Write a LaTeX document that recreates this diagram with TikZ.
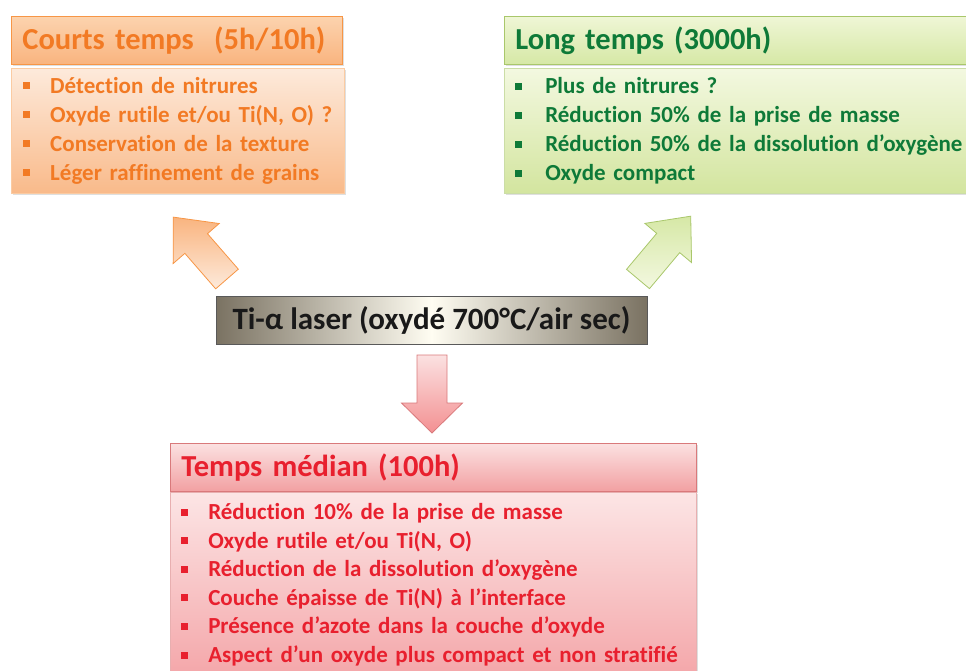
\documentclass[tikz,border=0pt]{standalone}
\usepackage{fontspec}
\setmainfont{Carlito}[Ligatures={NoCommon}]
\usetikzlibrary{shadows}
\definecolor{orTxt}{HTML}{F27A24}
\definecolor{orLine}{HTML}{F79646}
\definecolor{orA}{HTML}{FCD3AE}
\definecolor{orB}{HTML}{F9B47F}
\definecolor{orC}{HTML}{FDEADB}
\definecolor{orD}{HTML}{F9BA8A}
\definecolor{grTxt}{HTML}{0E7A38}
\definecolor{grLine}{HTML}{A9C76B}
\definecolor{grA}{HTML}{EFF6D6}
\definecolor{grB}{HTML}{D6E8A6}
\definecolor{grC}{HTML}{F3F8E0}
\definecolor{grD}{HTML}{D3E59F}
\definecolor{rdTxt}{HTML}{E8202E}
\definecolor{rdLine}{HTML}{D9797B}
\definecolor{rdA}{HTML}{FBE1E1}
\definecolor{rdB}{HTML}{F2A0A2}
\definecolor{rdC}{HTML}{FCE5E5}
\definecolor{rdD}{HTML}{F4A6A9}
\definecolor{ctEdge}{HTML}{7A7262}
\definecolor{ctMid}{HTML}{FFFDF2}
\newcommand{\bul}[2]{\makebox[#1][l]{\rule[4pt]{7pt}{7pt}}#2}
\begin{document}
\begin{tikzpicture}[x=1pt,y=-1pt,
  titlebox/.style={anchor=north west, minimum height=48pt, inner xsep=11pt,
    align=left, font=\fontsize{30.5}{34}\selectfont\bfseries, line width=0.8pt,
    drop shadow={opacity=0.25, shadow xshift=1.5pt, shadow yshift=-1.5pt}},
  listbox/.style={anchor=north west, inner xsep=11pt, align=left,
    font=\fontsize{23}{29}\selectfont\bfseries, line width=0.5pt,
    drop shadow={opacity=0.25, shadow xshift=1.5pt, shadow yshift=-1.5pt}},
  blockarrow/.style={line width=0.8pt}]
\useasboundingbox (0,0) rectangle (966,671);
% orange
\node[titlebox, text width=309pt, draw=orLine, top color=orA, bottom color=orB, text=orTxt] (ctitle) at (11,16) {Courts temps~~(5h/10h)};
\node[listbox, text width=309pt, minimum height=125pt, draw=orLine!50, top color=orC, bottom color=orD, text=orTxt, inner xsep=12pt] (clist) at (11,68)
 {\bul{27pt}{Détection de nitrures}\\ \bul{27pt}{Oxyde rutile et/ou Ti(N, O) ?}\\ \bul{27pt}{Conservation de la texture}\\ \bul{27pt}{Léger raffinement de grains}};
% green
\node[titlebox, text width=460pt, draw=grLine, top color=grA, bottom color=grB, text=grTxt] (ltitle) at (504,16) {Long temps (3000h)};
\node[listbox, text width=460pt, minimum height=125pt, draw=grLine!60, top color=grC, bottom color=grD, text=grTxt] (llist) at (504,68)
 {\bul{30pt}{Plus de nitrures ?}\\ \bul{30pt}{Réduction 50\% de la prise de masse}\\ \bul{30pt}{Réduction 50\% de la dissolution d’oxygène}\\ \bul{30pt}{Oxyde compact}};
% centre
\node[draw=black!65, line width=0.8pt, minimum width=431pt, minimum height=48pt, shading=axis, left color=ctEdge, right color=ctEdge, middle color=ctMid,
  font=\fontsize{31}{34}\selectfont\bfseries, text=black!90] (center) at (431.5,320) {Ti-α laser (oxydé 700°C/air sec)};
% red
\node[titlebox, text width=504pt, draw=rdLine, top color=rdA, bottom color=rdB, text=rdTxt] (mtitle) at (170,443) {Temps médian (100h)};
\node[listbox, text width=504pt, minimum height=185pt, draw=rdLine!60, top color=rdC, bottom color=rdD, text=rdTxt, font=\fontsize{23}{28.6}\selectfont\bfseries] (mlist) at (170,492)
 {\bul{27pt}{Réduction 10\% de la prise de masse}\\ \bul{27pt}{Oxyde rutile et/ou Ti(N, O)}\\ \bul{27pt}{Réduction de la dissolution d’oxygène}\\ \bul{27pt}{Couche épaisse de Ti(N) à l’interface}\\ \bul{27pt}{Présence d’azote dans la couche d’oxyde}\\ \bul{27pt}{Aspect d’un oxyde plus compact et non stratifié}};
% arrows
\coordinate (oa) at (227,279);
\coordinate (ga) at (638,279);
\coordinate (ma) at (432,355);
\draw[blockarrow, draw=orLine, top color=orB, bottom color=orC] 
  [shift={(oa)}, rotate=131] (0,-15) -- (47,-15) -- (47,-30.5) -- (82,0) -- (47,30.5) -- (47,15) -- (0,15) -- cycle;
\draw[blockarrow, draw=grLine, top color=grB, bottom color=grC] 
  [shift={(ga)}, rotate=50] (0,-15) -- (47,-15) -- (47,-30.5) -- (82,0) -- (47,30.5) -- (47,15) -- (0,15) -- cycle;
\draw[blockarrow, draw=rdLine, top color=rdA, bottom color=rdB!90!red] 
  [shift={(ma)}, rotate=-90] (0,-15) -- (48,-15) -- (48,-30.5) -- (78,0) -- (48,30.5) -- (48,15) -- (0,15) -- cycle;
\end{tikzpicture}
\end{document}
